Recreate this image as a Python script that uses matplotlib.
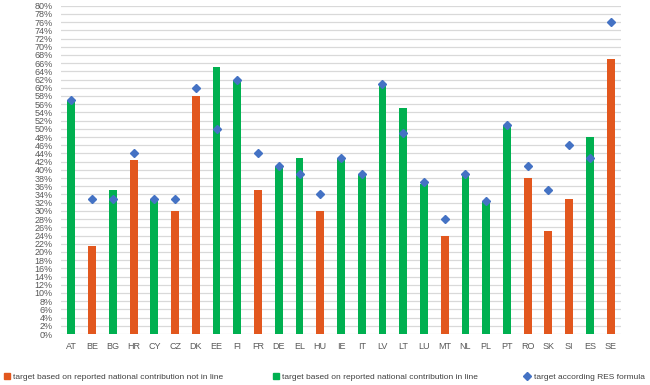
import matplotlib.pyplot as plt
from matplotlib.lines import Line2D
from matplotlib.ticker import MultipleLocator, PercentFormatter

plt.rcParams['font.family'] = ['Liberation Sans', 'DejaVu Sans']

# ========= DATA =========

countries = ['AT', 'BE', 'BG', 'HR', 'CY', 'CZ', 'DK', 'EE', 'FI', 'FR', 'DE', 'EL', 'HU', 'IE',
             'IT', 'LV', 'LT', 'LU', 'MT', 'NL', 'PL', 'PT', 'RO', 'SK', 'SI', 'ES', 'SE']

# reported national contribution (%), and whether it is in line with the RES formula
reported = [57, 21.5, 35, 42.5, 33, 30, 58, 65, 62, 35, 41, 43, 30, 43,
            39, 61, 55, 36.5, 24, 38.5, 32.5, 51, 38, 25, 33, 48, 67]
in_line = [True, False, True, False, True, False, False, True, True, False, True, True, False, True,
           True, True, True, True, False, True, True, True, False, False, False, True, False]

# target according to RES formula (%)
formula = [57, 33, 33, 44, 33, 33, 60, 50, 62, 44, 41, 39, 34, 43,
           39, 61, 49, 37, 28, 39, 32.5, 51, 41, 35, 46, 43, 76]

labels = ['target based on reported national contribution not in line',
          'target based on reported national contribution in line',
          'target according RES formula']

orange = '#E2571E'
green = '#00B050'
blue = '#4472C4'
text_color = '#595959'

# ========= PLOT =========

fig = plt.figure(figsize=(6.5, 3.85), dpi=100)
ax = fig.add_axes([61 / 650, 51 / 385, 560 / 650, 328.3 / 385])

x = list(range(len(countries)))
colors = [green if ok else orange for ok in in_line]
ax.bar(x, reported, width=0.38, color=colors, zorder=2)
ax.plot(x, formula, linestyle='none', marker='D', markersize=4.5,
        color=blue, zorder=3)

ax.set_xlim(-0.5, len(countries) - 0.5)
ax.set_ylim(0, 80)
ax.yaxis.set_major_locator(MultipleLocator(2))
ax.yaxis.set_major_formatter(PercentFormatter(decimals=0))
ax.set_xticks(x)
ax.set_xticklabels(countries)
ax.tick_params(axis='both', length=0, labelsize=6.5, labelcolor=text_color)
ax.tick_params(axis='x', pad=6)
ax.tick_params(axis='y', pad=6)
ax.grid(axis='y', color='#D9D9D9', linewidth=0.9, zorder=0)
for s in ax.spines.values():
    s.set_visible(False)

# Legend entries spread along the bottom like the Excel original
handles = [
    Line2D([0], [0], marker='s', color=orange, linestyle='none', markersize=4),
    Line2D([0], [0], marker='s', color=green, linestyle='none', markersize=4),
    Line2D([0], [0], marker='D', color=blue, linestyle='none', markersize=4),
]
for h, lab, xpos in zip(handles, labels, [0.005, 0.419, 0.806]):
    fig.legend(handles=[h], labels=[lab], loc='center left',
               bbox_to_anchor=(xpos, 0.02), frameon=False, fontsize=6,
               labelcolor='#404040', handlelength=0.8, handletextpad=0.4,
               borderaxespad=0, borderpad=0)

fig.savefig('out.png', dpi=100)
